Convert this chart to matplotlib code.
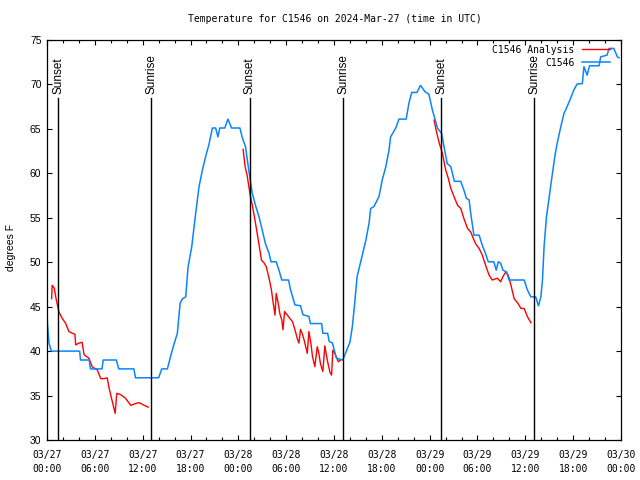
import matplotlib
matplotlib.use("Agg")
import matplotlib.pyplot as plt
from matplotlib.ticker import MultipleLocator
import numpy as np

# hours since 2024-03-27 00:00 UTC
obs_t = [0.0, 0.05, 0.25, 0.55, 4.1, 4.2, 5.3, 5.45, 6.9, 7.05, 8.7, 9.0, 10.9, 11.1, 14.0, 14.4,
         15.1, 15.5, 15.9, 16.35, 16.7, 17.0, 17.4, 17.7, 18.15, 18.65, 19.07, 19.5, 19.9, 20.3,
         20.75, 21.15, 21.45, 21.67, 22.3, 22.7, 23.15, 24.2, 24.5, 24.9, 25.3, 25.75, 26.2, 26.6,
         27.0, 27.4, 27.85, 28.1, 28.75, 29.1, 29.45, 30.3, 30.55, 31.1, 31.8, 32.1, 32.85, 33.05,
         34.45, 34.6, 35.2, 35.4, 35.8, 36.3, 37.1, 37.5, 38.0, 38.3, 38.6, 38.9, 39.35, 40.0,
         40.4, 40.6, 41.0, 41.65, 42.05, 42.5, 42.9, 43.1, 43.75, 44.15, 45.05, 45.4, 45.75, 46.4,
         46.85, 47.4, 47.9, 48.35, 49.0, 49.5, 49.8, 50.2, 50.65, 51.1, 51.9, 52.3, 52.6, 52.95,
         53.15, 53.45, 53.55, 54.2, 54.6, 55.0, 55.35, 56.05, 56.35, 56.6, 56.9, 57.2, 57.65, 57.95,
         59.85, 60.25, 60.7, 61.3, 61.65, 61.95, 62.15, 62.35, 62.65, 63.0, 63.4, 63.7, 64.0,
         64.45, 64.85, 65.05, 65.5, 66.1, 66.5, 67.15, 67.35, 67.75, 68.05, 69.25, 69.45, 70.25,
         70.5, 71.1, 71.55, 71.75]
obs_v = [45.1, 43.2, 40.9, 40.0, 40.0, 39.0, 39.0, 38.0, 38.0, 39.0, 39.0, 38.0, 38.0, 37.0, 37.0, 38.0,
         38.0, 39.4, 40.7, 42.0, 45.4, 45.9, 46.1, 49.5, 51.7, 55.5, 58.5, 60.4, 61.9, 63.2,
         65.1, 65.1, 64.1, 65.1, 65.1, 66.1, 65.1, 65.1, 64.0, 63.0, 60.4, 57.75, 56.25, 55.1,
         53.6, 52.1, 51.0, 50.05, 50.05, 49.1, 48.0, 48.0, 46.9, 45.2, 45.1, 44.1, 43.9, 43.1,
         43.1, 42.0, 42.0, 41.1, 40.9, 39.2, 39.0, 39.9, 41.0, 42.75, 45.4, 48.4, 50.05, 52.5,
         54.4, 56.05, 56.25, 57.4, 59.25, 60.75, 62.6, 64.1, 65.1, 66.1, 66.1, 67.9, 69.1, 69.1,
         69.9, 69.2, 68.9, 67.1, 65.05, 64.5, 63.0, 61.1, 60.75, 59.1, 59.1, 58.1, 57.2, 57.0,
         55.5, 53.6, 53.05, 53.05, 51.9, 51.0, 50.05, 50.05, 49.1, 50.05, 49.9, 49.1, 48.9, 48.0,
         48.0, 46.9, 46.1, 46.1, 45.1, 46.1, 48.0, 51.75, 55.1, 57.4, 60.0, 61.9, 63.4,
         65.25, 66.75, 67.1, 68.05, 69.4, 70.05, 70.1, 72.0, 71.05, 72.1, 72.1, 73.1, 73.3,
         74.05, 74.05, 73.1, 73.0]

ana1_t = [0.58, 0.65, 0.9, 1.17, 1.5, 1.9, 2.35, 2.75, 3.2, 3.5, 3.6, 4.0, 4.4, 4.65, 5.25, 5.7,
          6.3, 6.75, 7.15, 7.55, 7.8, 8.2, 8.55, 8.75, 9.25, 9.85, 10.5, 11.1, 11.55, 12.2, 12.7]
ana1_v = [45.9, 47.4, 47.1, 45.75, 44.4, 43.7, 43.1, 42.2, 42.0, 41.9, 40.7, 40.9, 41.0, 39.6, 39.2, 38.2,
          37.9, 36.9, 36.9, 37.0, 35.8, 34.3, 33.0, 35.25, 35.1, 34.7, 33.9, 34.1, 34.2, 33.9, 33.7]

ana2_t = [24.6, 24.85, 25.1, 25.45, 25.75, 26.05, 26.4, 26.7, 26.9, 27.25, 27.5, 27.85, 28.15, 28.35,
          28.6, 28.75, 29.0, 29.2, 29.45, 29.6, 29.8, 30.15, 30.45, 30.8, 31.1, 31.4, 31.6, 31.8,
          32.0, 32.25, 32.45, 32.65, 32.85, 33.1, 33.3, 33.6, 33.9, 34.1, 34.3, 34.6, 34.85, 35.0,
          35.25, 35.5, 35.7, 35.85, 36.1, 36.55, 36.85]
ana2_v = [62.7, 60.75, 59.8, 57.75, 56.4, 54.95, 53.05, 51.4, 50.25, 49.9, 49.5, 48.2, 46.9, 45.55,
          44.05, 46.5, 45.4, 44.25, 43.5, 42.4, 44.45, 44.05, 43.7, 43.3, 42.4, 41.4, 40.9, 42.45,
          42.0, 41.25, 40.5, 39.75, 42.2, 40.9, 39.4, 38.25, 40.5, 39.75, 38.6, 37.7, 40.6, 39.75,
          38.6, 37.6, 37.3, 40.1, 39.75, 38.8, 39.0]

ana3_t = [48.55, 48.85, 49.2, 49.6, 50.0, 50.35, 50.65, 51.05, 51.5, 51.9, 52.3, 52.75, 53.15, 53.75,
          54.2, 54.6, 55.0, 55.45, 55.85, 56.5, 56.9, 57.2, 57.55, 57.85, 58.2, 58.6, 59.05, 59.45,
          59.85, 60.25, 60.7]
ana3_v = [66.0, 64.7, 63.4, 62.25, 60.4, 59.4, 58.3, 57.4, 56.4, 56.05, 54.9, 53.8, 53.4, 52.1,
          51.55, 50.8, 49.7, 48.55, 48.0, 48.2, 47.8, 48.4, 48.9, 48.55, 47.4, 45.9, 45.4, 44.8,
          44.8, 43.9, 43.2]

sunset_t = [1.42, 25.43, 49.46]
sunrise_t = [13.08, 37.19, 61.13]

tick_hours = list(range(0, 73, 6))
tick_labels = ["03/27\n00:00", "03/27\n06:00", "03/27\n12:00", "03/27\n18:00",
               "03/28\n00:00", "03/28\n06:00", "03/28\n12:00", "03/28\n18:00",
               "03/29\n00:00", "03/29\n06:00", "03/29\n12:00", "03/29\n18:00",
               "03/30\n00:00"]
y_ticks = list(range(30, 76, 5))

RED = "#ff0000"
BLUE = "#0a84ff"
MONO = "DejaVu Sans Mono"
SANS = "Liberation Sans"

fig = plt.figure(figsize=(6.4, 4.8), dpi=100)
ax = fig.add_axes([47 / 640, 40 / 480, 574 / 640, 400 / 480])

ax.plot(ana1_t, ana1_v, color=RED, lw=1.0, label="C1546 Analysis")
ax.plot(ana2_t, ana2_v, color=RED, lw=1.0)
ax.plot(ana3_t, ana3_v, color=RED, lw=1.0)
ax.plot(obs_t, obs_v, color=BLUE, lw=1.1, label="C1546")

line_top = 0.855
for t in sunset_t:
    ax.axvline(t, ymin=0, ymax=line_top, color="black", lw=1.0)
    ax.text(t, 0.866, "Sunset", transform=ax.get_xaxis_transform(), rotation=90,
            ha="center", va="bottom", fontsize=8.5, family=SANS)
for t in sunrise_t:
    ax.axvline(t, ymin=0, ymax=line_top, color="black", lw=1.0)
    ax.text(t, 0.866, "Sunrise", transform=ax.get_xaxis_transform(), rotation=90,
            ha="center", va="bottom", fontsize=8.5, family=SANS)

ax.set_xlim(0, 72)
ax.set_ylim(30, 75)
ax.set_xticks(tick_hours)
ax.set_xticklabels(tick_labels, family=MONO, fontsize=7, linespacing=1.55)
ax.xaxis.set_minor_locator(MultipleLocator(2))
ax.set_yticks(y_ticks)
ax.set_yticklabels([str(v) for v in y_ticks], family=SANS, fontsize=7.5)

ax.tick_params(axis="both", which="major", direction="in", length=3.5, width=0.8,
               top=True, right=True, pad=4)
ax.tick_params(axis="both", which="minor", direction="in", length=2.0, width=0.8,
               top=True, right=True)
ax.tick_params(axis="x", which="major", pad=7)
for s in ax.spines.values():
    s.set_linewidth(0.9)

fig.text(11 / 640, 1 - 247 / 480, "degrees F", rotation=90, ha="center", va="center",
         family=SANS, fontsize=7.5)
fig.text(335 / 640, 1 - 19 / 480, "Temperature for C1546 on 2024-Mar-27 (time in UTC)",
         ha="center", va="center", family=MONO, fontsize=7)

leg = ax.legend(loc="upper right", bbox_to_anchor=(0.98, 0.988), frameon=False,
                markerfirst=False, handlelength=2.8, handletextpad=0.8, labelspacing=0.3,
                borderpad=0, borderaxespad=0, prop={"family": MONO, "size": 7})

fig.savefig("out.png", dpi=100)
